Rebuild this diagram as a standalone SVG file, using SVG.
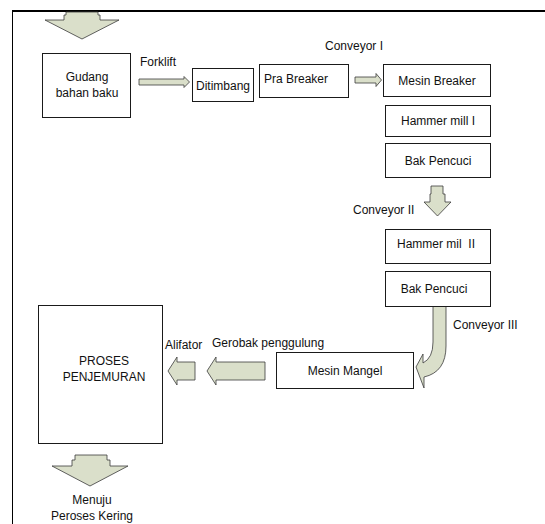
<svg xmlns="http://www.w3.org/2000/svg" width="545" height="524" viewBox="0 0 545 524">
  <style>
    .box { fill: #ffffff; stroke: #1a1a1a; stroke-width: 1; }
    .arrow { fill: #dadfca; stroke: #3a3a3a; stroke-width: 0.8; stroke-linejoin: miter; }
    text { font-family: "Liberation Sans", Arial, sans-serif; font-size: 12px; fill: #111111; }
    .c { text-anchor: middle; }
  </style>

  <!-- page frame -->
  <g id="frame">
    <line x1="12" y1="11" x2="545" y2="11" stroke="#000" stroke-width="2"/>
    <line x1="12.5" y1="10" x2="12.5" y2="524" stroke="#000" stroke-width="1"/>
  </g>

  <!-- block arrows and their labels -->
  <g id="connectors">
    <!-- incoming arrow at top -->
    <polygon class="arrow" points="66,12 98,12 98,15 100,15 100,20 119,20 82,39 45,20 64,20 64,15 66,15 66,12"/>
    <!-- Forklift -->
    <polygon class="arrow" points="139,79 184,79 184,76.5 189.5,82 184,87.5 184,85 139,85"/>
    <text x="140" y="66">Forklift</text>
    <!-- Conveyor I -->
    <polygon class="arrow" points="355,77 376,77 376,73.5 381.5,80 376,86.5 376,83 355,83"/>
    <text x="325" y="50">Conveyor I</text>
    <!-- Conveyor II -->
    <polygon class="arrow" points="431,186 443,186 443,194 445,194 445,202 451,202 437.5,216 424,202 430,202 430,194 431,194"/>
    <text x="353" y="214">Conveyor II</text>
    <!-- Conveyor III (curved) -->
    <path class="arrow" d="M433,306 L446,306 L446,346 Q446,372 424,377 L424,388 L416,367 L423,354 L423,363 Q433,358 433,342 Z"/>
    <text x="453" y="329">Conveyor III</text>
    <!-- Gerobak penggulung -->
    <polygon class="arrow" points="265,362 216,362 216,357 207,371 216,385 216,380 265,380"/>
    <text x="212" y="347">Gerobak penggulung</text>
    <!-- Alifator -->
    <polygon class="arrow" points="195,362 177,362 177,357 168,371 177,385 177,380 195,380"/>
    <text x="165" y="349">Alifator</text>
    <!-- outgoing arrow at bottom -->
    <polygon class="arrow" points="75,455 107,455 107,460 110,460 110,466 128,466 90,486 52,466 72,466 72,460 75,460 75,455"/>
  </g>

  <g id="gudang">
    <rect class="box" x="42.5" y="53.5" width="88" height="64"/>
    <text class="c" x="87" y="81">Gudang</text>
    <text class="c" x="87" y="97">bahan baku</text>
  </g>

  <g id="ditimbang">
    <rect class="box" x="192.5" y="68.5" width="61" height="33"/>
    <text class="c" x="223" y="90">Ditimbang</text>
  </g>

  <g id="pra-breaker">
    <rect class="box" x="259.5" y="64.5" width="89" height="33"/>
    <text x="264" y="83">Pra Breaker</text>
  </g>

  <g id="mesin-breaker">
    <rect class="box" x="383.5" y="64.5" width="107" height="32"/>
    <text class="c" x="437" y="85">Mesin Breaker</text>
  </g>

  <g id="hammer-mill-1">
    <rect class="box" x="385.5" y="105.5" width="105" height="31"/>
    <text class="c" x="438" y="125">Hammer mill I</text>
  </g>

  <g id="bak-pencuci-1">
    <rect class="box" x="385.5" y="143.5" width="105" height="34"/>
    <text class="c" x="438" y="165">Bak Pencuci</text>
  </g>

  <g id="hammer-mill-2">
    <rect class="box" x="385.5" y="229.5" width="105" height="34"/>
    <text class="c" x="436" y="248" xml:space="preserve">Hammer mil  II</text>
  </g>

  <g id="bak-pencuci-2">
    <rect class="box" x="385.5" y="271.5" width="105" height="35"/>
    <text class="c" x="434" y="293">Bak Pencuci</text>
  </g>

  <g id="mesin-mangel">
    <rect class="box" x="276.5" y="352.5" width="137" height="36"/>
    <text class="c" x="345" y="375">Mesin Mangel</text>
  </g>

  <g id="proses-penjemuran">
    <rect class="box" x="38.5" y="305.5" width="124" height="138"/>
    <text class="c" x="104" y="365">PROSES</text>
    <text class="c" x="104" y="381">PENJEMURAN</text>
  </g>

  <g id="menuju">
    <text class="c" x="92" y="504">Menuju</text>
    <text class="c" x="92" y="520">Peroses Kering</text>
  </g>
</svg>
